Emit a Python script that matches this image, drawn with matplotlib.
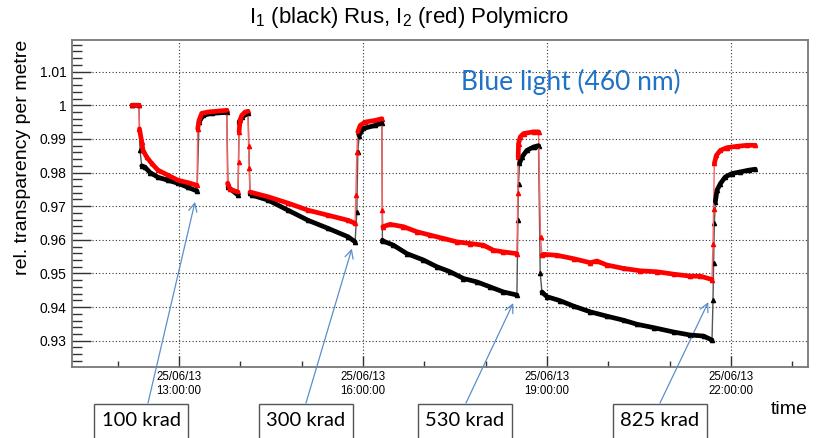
import numpy as np
import matplotlib
matplotlib.use('Agg')
import matplotlib.pyplot as plt
from matplotlib.patches import Rectangle
from matplotlib.ticker import MultipleLocator, FuncFormatter

# time in hours on 25/06/13, value = rel. transparency per metre
black_t = [12.233, 12.347, 12.364, 12.392, 12.445, 12.527, 12.657, 12.821, 12.984, 13.147, 13.294,
           13.326, 13.392, 13.533, 13.778,
           13.799, 13.962,
           13.979, 14.023, 14.126,
           14.158, 14.186, 14.452, 14.778, 15.104, 15.431, 15.757, 15.871,
           15.899, 15.915, 15.936, 16.002, 16.197, 16.307,
           16.316, 16.333, 16.496, 16.715, 16.985, 17.204, 17.421, 17.638, 17.856, 18.073, 18.290, 18.509,
           18.525, 18.535, 18.551, 18.590, 18.672, 18.780, 18.861,
           18.889, 18.917, 18.998, 19.215, 19.432, 19.705, 19.977, 20.248, 20.467, 20.738, 21.064,
           21.336, 21.553, 21.690,
           21.706, 21.716, 21.728, 21.744, 21.772, 21.826, 21.907, 22.016, 22.152, 22.288, 22.396]
black_v = [1.000, 1.000, 0.9866, 0.9820, 0.9816, 0.9800, 0.9786, 0.9777, 0.9768, 0.9756, 0.9745,
           0.9950, 0.9970, 0.9976, 0.9979,
           0.9757, 0.9733,
           0.9950, 0.9965, 0.9976,
           0.9738, 0.9733, 0.9718, 0.9688, 0.9658, 0.9634, 0.9609, 0.9594,
           0.9683, 0.9860, 0.9910, 0.9931, 0.9940, 0.9947,
           0.9599, 0.9596, 0.9584, 0.9559, 0.9540, 0.9520, 0.9505, 0.9485, 0.9475, 0.9460, 0.9445, 0.9436,
           0.9658, 0.9767, 0.9827, 0.9846, 0.9866, 0.9876, 0.9880,
           0.9500, 0.9445, 0.9431, 0.9419, 0.9403, 0.9386, 0.9373, 0.9361, 0.9349, 0.9339, 0.9326,
           0.9317, 0.9314, 0.9302,
           0.9421, 0.9530, 0.9649, 0.9713, 0.9748, 0.9767, 0.9787, 0.9797, 0.9802, 0.9807, 0.9810]

red_t = [12.233, 12.347, 12.355, 12.392, 12.413, 12.473, 12.555, 12.657, 12.821, 12.984, 13.147, 13.294,
         13.305, 13.326, 13.370, 13.473, 13.778,
         13.791, 13.832, 13.962,
         13.971, 13.979, 13.995, 14.023, 14.077, 14.126,
         14.134, 14.142, 14.158, 14.452, 14.778, 15.104, 15.431, 15.757, 15.871,
         15.883, 15.899, 15.915, 15.953, 16.034, 16.197, 16.307,
         16.316, 16.323, 16.442, 16.659, 16.878, 17.095, 17.312, 17.530, 17.747, 17.964, 18.127, 18.290, 18.509,
         18.525, 18.530, 18.535, 18.563, 18.617, 18.780, 18.861,
         18.894, 18.917, 18.944, 19.162, 19.432, 19.705, 19.814, 19.977, 20.248, 20.520, 20.793, 21.064,
         21.336, 21.499, 21.690,
         21.706, 21.716, 21.728, 21.761, 21.826, 21.935, 22.098, 22.261, 22.396]
red_v = [1.000, 1.000, 0.9930, 0.9890, 0.9866, 0.9846, 0.9827, 0.9807, 0.9792, 0.9777, 0.9770, 0.9762,
         0.9930, 0.9955, 0.9976, 0.9980, 0.9985,
         0.9768, 0.9750, 0.9742,
         0.9832, 0.9921, 0.9955, 0.9970, 0.9980, 0.9982,
         0.9880, 0.9813, 0.9742, 0.9728, 0.9709, 0.9688, 0.9673, 0.9658, 0.9649,
         0.9733, 0.9861, 0.9921, 0.9940, 0.9950, 0.9955, 0.9960,
         0.9688, 0.9639, 0.9646, 0.9639, 0.9624, 0.9614, 0.9604, 0.9594, 0.9589, 0.9584, 0.9569, 0.9564, 0.9559,
         0.9738, 0.9846, 0.9886, 0.9906, 0.9916, 0.9921, 0.9921,
         0.9609, 0.9554, 0.9557, 0.9554, 0.9544, 0.9532, 0.9537, 0.9525, 0.9515, 0.9508, 0.9505, 0.9498,
         0.9492, 0.9492, 0.9482,
         0.9589, 0.9693, 0.9827, 0.9851, 0.9866, 0.9874, 0.9878, 0.9881, 0.9881]

dose_labels = ['100 krad', '300 krad', '530 krad', '825 krad']
dose_t = [13.261, 15.818, 18.449, 21.63]
dose_v = [0.9713, 0.9574, 0.9412, 0.9415]

major_hours = [13, 16, 19, 22]

W, H = 818, 438


def fx(x):
    return x / W


def fy(y):
    return 1 - y / H


def broken(t, v, jump=0.0045):
    # split the curve where it jumps so only slow parts get the thick band
    t = np.array(t)
    v = np.array(v)
    tt, vv = [t[0]], [v[0]]
    for i in range(1, len(t)):
        if abs(v[i] - v[i - 1]) > jump:
            tt.append(np.nan)
            vv.append(np.nan)
        tt.append(t[i])
        vv.append(v[i])
    return tt, vv


def draw_series(ax, t, v, col, thin):
    ax.plot(t, v, color=thin, lw=1.0, marker='^', ms=3, mfc=col, mec=col, zorder=3)
    bt, bv = broken(t, v)
    ax.plot(bt, bv, color=col, lw=3.4, solid_capstyle='round', zorder=4)


def main():
    plt.rcParams['font.family'] = ['Liberation Sans', 'DejaVu Sans']
    plt.rcParams['mathtext.fontset'] = 'custom'
    plt.rcParams['mathtext.rm'] = 'Liberation Sans'

    fig = plt.figure(figsize=(W / 100, H / 100), dpi=100)
    ax = fig.add_axes([fx(72), fy(367), fx(808) - fx(72), fy(40) - fy(367)])

    draw_series(ax, black_t, black_v, 'black', '#555555')
    draw_series(ax, red_t, red_v, '#ff0000', '#ff6060')

    ax.set_xlim(11.255, 23.255)
    ax.set_ylim(0.9222, 1.0194)

    ax.xaxis.set_major_locator(plt.FixedLocator(major_hours))
    ax.xaxis.set_minor_locator(MultipleLocator(1))
    ax.xaxis.set_major_formatter(FuncFormatter(lambda h, p: '25/06/13\n%02d:00:00' % int(round(h))))
    ax.yaxis.set_major_locator(MultipleLocator(0.01))
    ax.yaxis.set_minor_locator(MultipleLocator(0.002))
    ax.yaxis.set_major_formatter(FuncFormatter(lambda v, p: '%g' % round(v, 3)))

    ax.grid(True, which='major', color='#333333', ls=(0, (1, 2)), lw=0.8)
    ax.tick_params(axis='y', which='major', direction='in', length=14, width=1, color='#333333',
                   labelsize=10, pad=4)
    ax.tick_params(axis='y', which='minor', direction='in', length=7, width=1, color='#333333')
    ax.tick_params(axis='x', which='major', direction='in', length=8, width=1, color='#333333',
                   labelsize=8.3, pad=3)
    ax.tick_params(axis='x', which='minor', direction='in', length=4, width=1, color='#333333')
    for lab in ax.get_xticklabels():
        lab.set_linespacing(1.25)
    for s in ax.spines.values():
        s.set_color('#777777')
        s.set_linewidth(1.3)

    ax.set_ylabel('rel. transparency per metre', fontsize=14, loc='top')
    ax.yaxis.set_label_coords((31 - 72) / 736, 1.0)

    fig.text(fx(808), fy(410), 'time', fontsize=14, ha='right', va='center')
    fig.text(0.5, fy(17), r'I$_1$ (black) Rus, I$_2$ (red) Polymicro', fontsize=16,
             ha='center', va='center')

    fig.text(fx(571), fy(82), 'Blue light (460 nm)', fontsize=19,
             family='Lato', color='#1f72c4', ha='center', va='center')

    box_left = [94, 259, 418, 613]
    tail_x = [148, 306, 466, 660]
    for i in range(len(dose_labels)):
        fig.patches.append(Rectangle((fx(box_left[i]), fy(445)), 94 / W, 41 / H,
                                     transform=fig.transFigure, fill=False,
                                     edgecolor='#555555', lw=1.0))
        fig.text(fx(box_left[i] + 47), fy(421), dose_labels[i], fontsize=14.5, family='Lato',
                 ha='center', va='center')
        ax.annotate('', xy=(dose_t[i], dose_v[i]), xycoords='data',
                    xytext=(fx(tail_x[i]), fy(403)), textcoords='figure fraction',
                    arrowprops=dict(arrowstyle='->,head_length=0.6,head_width=0.3',
                                    color='#5b8fcc', lw=0.9, shrinkA=0, shrinkB=0),
                    annotation_clip=False)

    fig.savefig('out.png', dpi=100, facecolor='white')


if __name__ == '__main__': main()
